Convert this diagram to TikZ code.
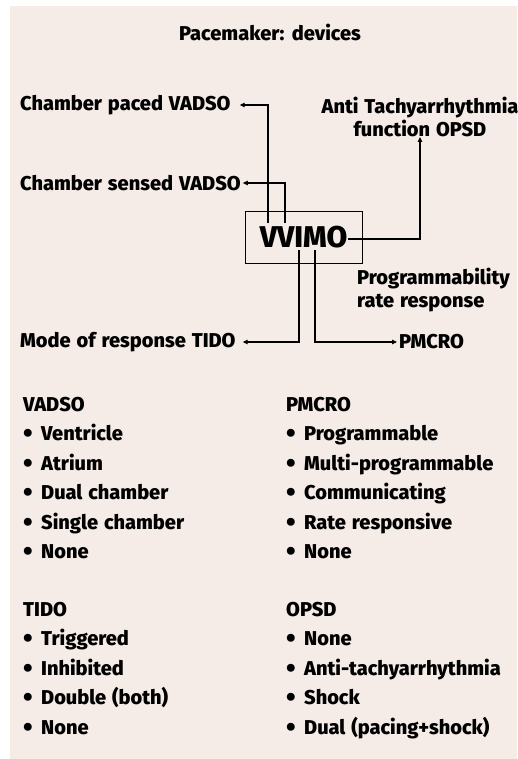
\documentclass[tikz,border=0pt]{standalone}
\usepackage{fontspec}
\setmainfont{Fira Sans}[BoldFont={Fira Sans ExtraBold}, WordSpace=1.3]
\usetikzlibrary{arrows.meta}
\definecolor{panelpink}{RGB}{245, 236, 231}
\newcommand{\itm}[1]{\makebox[18pt][l]{\raisebox{-0.08em}{\fontsize{27}{0}\selectfont\textbullet}}#1}

\begin{document}
\begin{tikzpicture}[x=1pt,y=-1pt,
    lbl/.style={font=\fontsize{20}{23}\bfseries\selectfont, inner sep=0pt},
    lst/.style={lbl, anchor=north west, align=left, font=\fontsize{20}{29.5}\bfseries\selectfont},
    arr/.style={line width=1.1pt, -{Triangle[length=5pt,width=4.5pt]}}]
            \useasboundingbox (0,0) rectangle (517,759);
            \fill[panelpink] (10,6) rectangle (517,759);
            \node[lbl] (title) at (270,32) {Pacemaker: devices};
            % main code box
            \node[draw, line width=0.9pt, minimum width=117pt, minimum height=52pt, inner sep=0pt,
                  font=\fontsize{30}{30}\bfseries\selectfont] (box) at (303.5,237.5) {VVIMO};
            \coordinate (pout)  at (268,223);
            \coordinate (sout)  at (285,223);
            \coordinate (aout)  at (348,239);
            \coordinate (tout)  at (299,250);
            \coordinate (mout)  at (315,250);
            % labels round the box
            \node[lbl, anchor=west] (paced)  at (20,105) {Chamber paced VADSO};
            \node[lbl, anchor=west] (sensed) at (20,183) {Chamber sensed VADSO};
            \node[lbl, anchor=west] (mode)   at (20,342) {Mode of response TIDO};
            \node[lbl, align=center, anchor=south] (anti) at (420,137) {Anti Tachyarrhythmia\\function OPSD};
            \node[lbl, align=left, anchor=west] (prog) at (357,290) {Programmability\\rate response};
            \node[lbl, anchor=west] (pmcro)  at (399,342) {PMCRO};
            % connectors
            \draw[arr] (pout) |- ([xshift=9pt]paced.east);
            \draw[arr] (sout) |- ([xshift=2pt]sensed.east);
            \draw[arr] (aout) -| (anti.south);
            \draw[arr] (tout) |- ([xshift=7pt]mode.east);
            \draw[arr] (mout) |- ([xshift=-2pt]pmcro.west);
            % lists
            \node[lst] (vadso) at (23,397) {VADSO\\\itm{Ventricle}\\\itm{Atrium}\\\itm{Dual chamber}\\\itm{Single chamber}\\\itm{None}};
            \node[lst] (tido)  at (23,602) {TIDO\\\itm{Triggered}\\\itm{Inhibited}\\\itm{Double (both)}\\\itm{None}};
            \node[lst] (pmc)   at (286,397) {PMCRO\\\itm{Programmable}\\\itm{Multi-programmable}\\\itm{Communicating}\\\itm{Rate responsive}\\\itm{None}};
            \node[lst] (opsd)  at (286,602) {OPSD\\\itm{None}\\\itm{Anti-tachyarrhythmia}\\\itm{Shock}\\\itm{Dual (pacing+shock)}};
        \end{tikzpicture}
\end{document}
